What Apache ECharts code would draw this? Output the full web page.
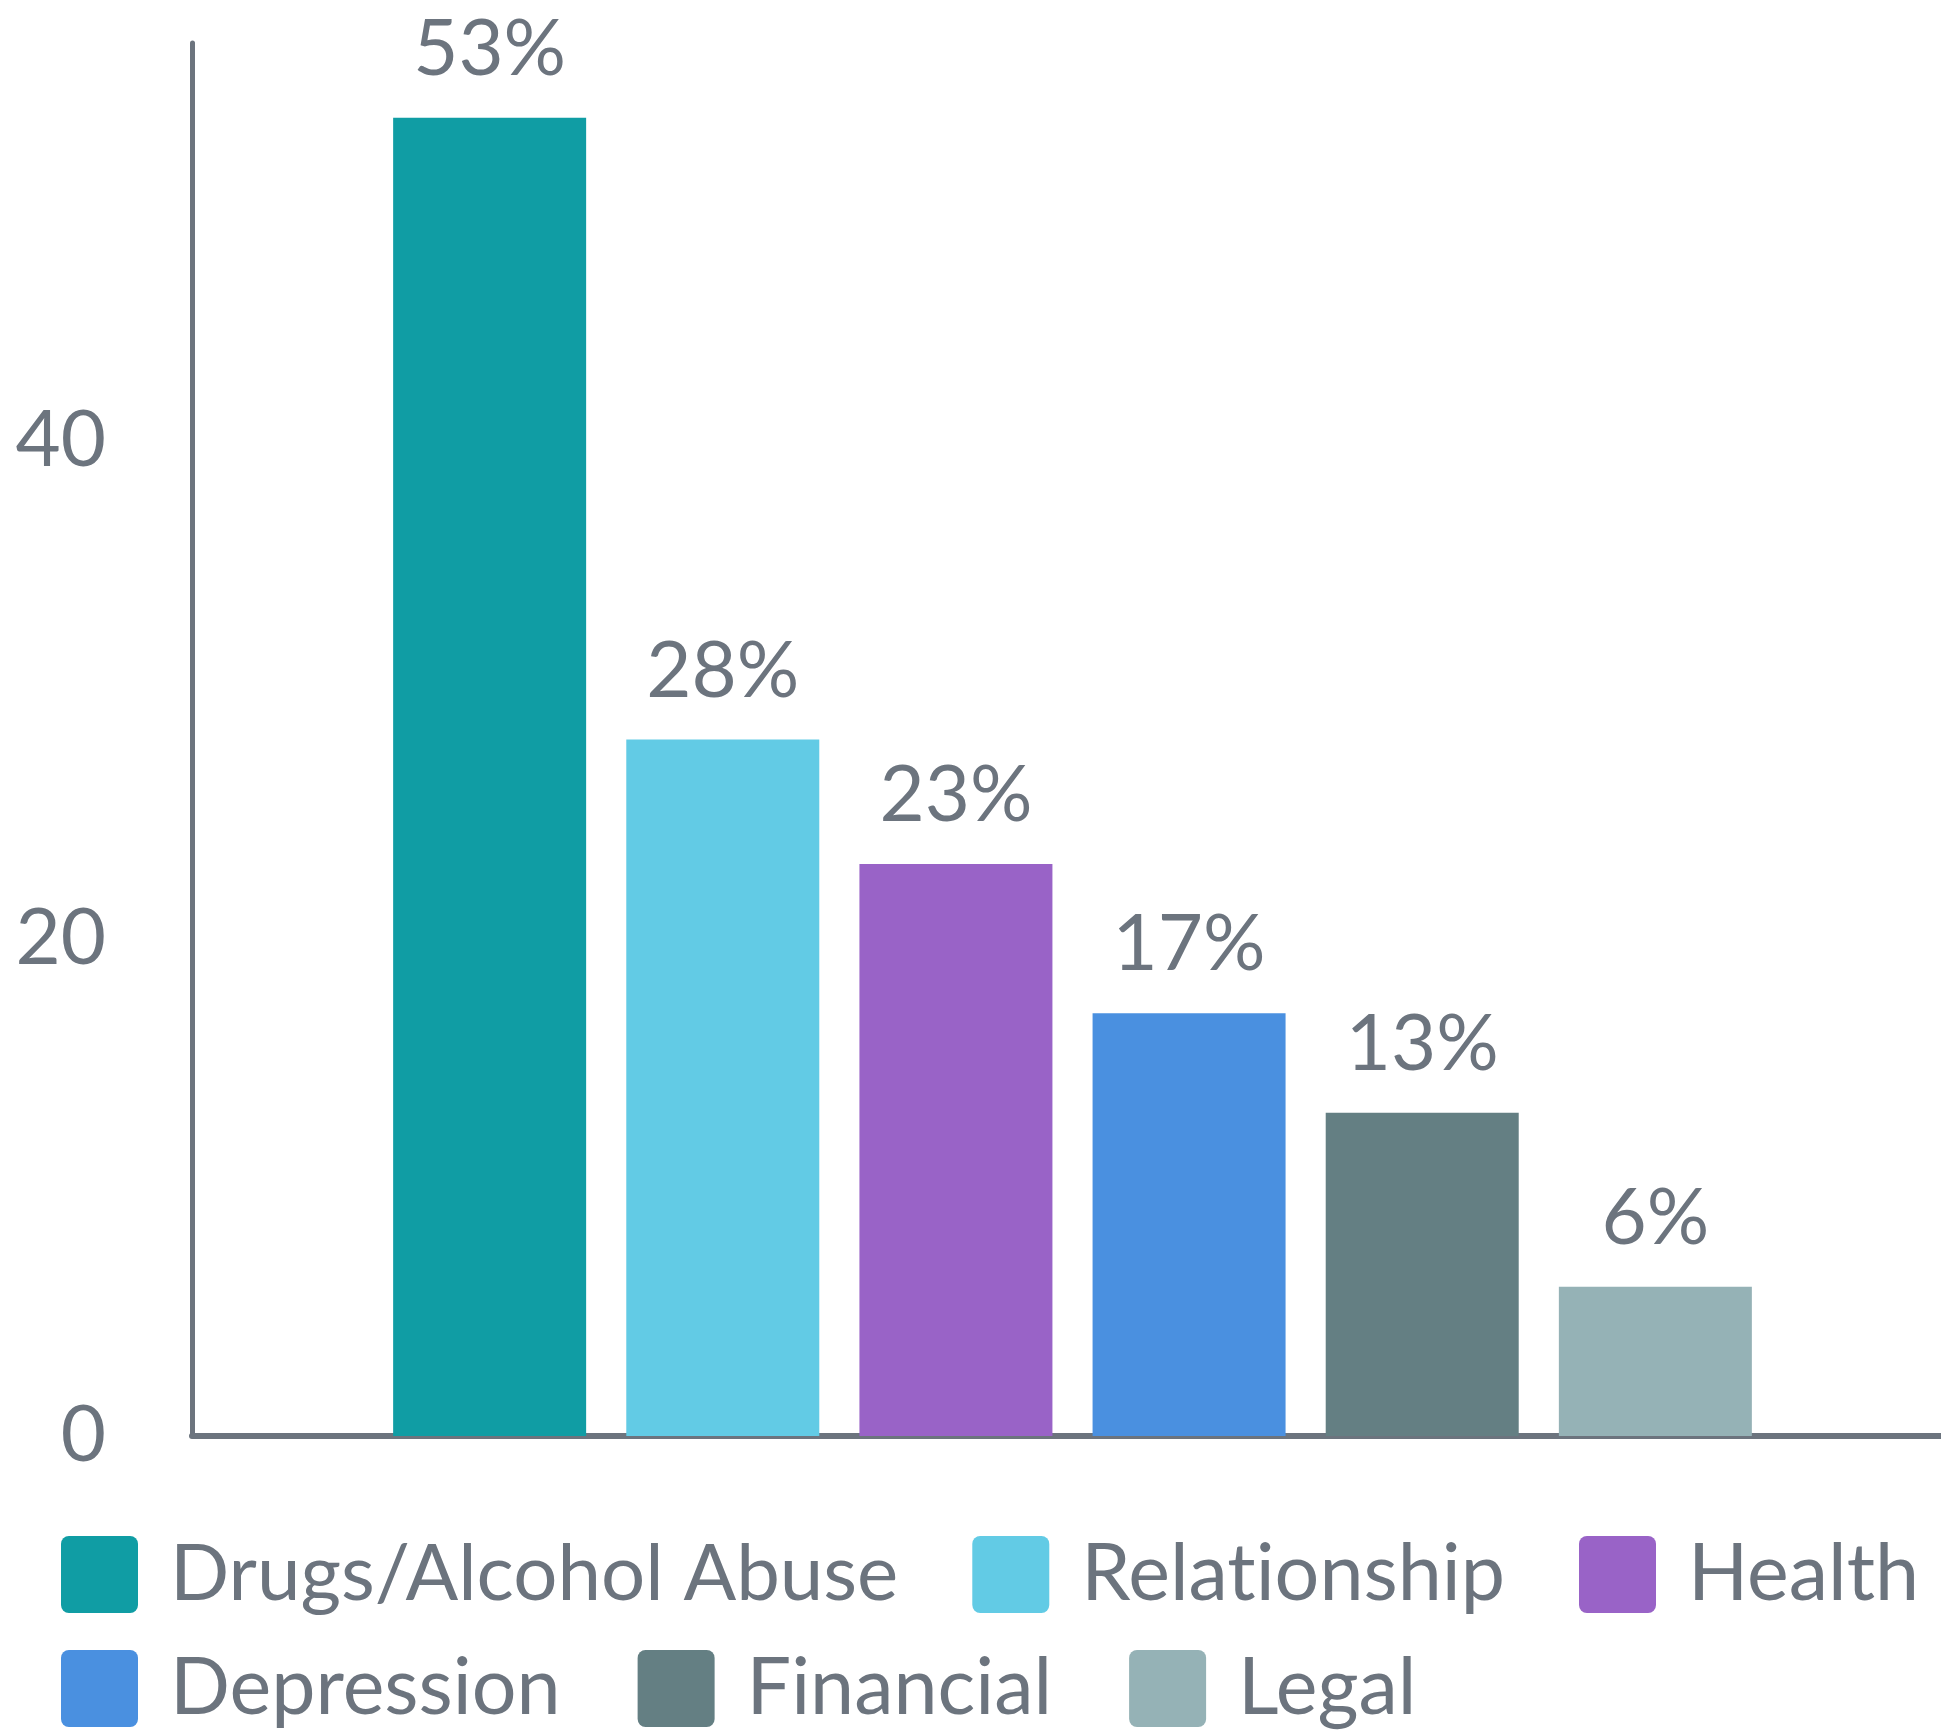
<!DOCTYPE html>
<html>
<head>
<meta charset="utf-8">
<script src="https://cdn.jsdelivr.net/npm/echarts@6/dist/echarts.min.js"></script>
<style>
html,body{margin:0;padding:0;background:#fff;}
#chart{width:1941px;height:1736px;}
</style>
</head>
<body>
<div id="chart"></div>
<script>
const categories = ['Drugs/Alcohol Abuse', 'Relationship', 'Health', 'Depression', 'Financial', 'Legal'];
const values = [53, 28, 23, 17, 13, 6];
const colors = ['#109da4', '#62cbe5', '#9963c7', '#4a90e0', '#647f83', '#95b2b6'];
const yMin = 0;
const yMax = 56;
const yInterval = 20;

const textColor = '#6c747e';
const font = 'Lato';
const iconPath = 'path://M8,0H70A8,8 0 0 1 78,8V70A8,8 0 0 1 70,78H8A8,8 0 0 1 0,70V8A8,8 0 0 1 8,0Z';

const legendCommon = {
  orient: 'horizontal',
  left: 61,
  padding: 0,
  itemWidth: 77,
  itemHeight: 78,
  icon: iconPath,
  // avoid the "ti" ligature of Lato (zero-width non-joiner)
  formatter: function (name) { return name.replace(/ti/g, 't\u200Ci'); },
  textStyle: {
    color: textColor,
    fontFamily: font,
    fontSize: 79,
    padding: [0, 0, 0, 27]
  }
};

const row1 = categories.slice(0, 3).map(function (n, i) {
  return i === 0 ? { name: n, textStyle: { fontSize: 78 } } : { name: n };
});
const row2 = categories.slice(3);

const chart = echarts.init(document.getElementById('chart'));
chart.setOption({
  animation: false,
  backgroundColor: '#ffffff',
  grid: { left: 192, width: 1761, top: 43, bottom: 300, containLabel: false, outerBoundsMode: 'none' },
  legend: [
    Object.assign({}, legendCommon, { top: 1535, itemGap: 74, data: row1 }),
    Object.assign({}, legendCommon, { top: 1649, itemGap: 77, data: row2 })
  ],
  xAxis: {
    type: 'category',
    data: [''],
    axisLine: { show: true, lineStyle: { color: textColor, width: 6 } },
    axisTick: { show: false },
    axisLabel: { show: false },
    splitLine: { show: false }
  },
  yAxis: {
    type: 'value',
    min: yMin,
    max: yMax,
    interval: yInterval,
    axisLine: { show: true, lineStyle: { color: textColor, width: 5 } },
    axisTick: { show: false },
    splitLine: { show: false },
    axisLabel: {
      showMaxLabel: false,
      margin: 86,
      color: textColor,
      fontFamily: font,
      fontSize: 78,
      formatter: function (v) { return v % yInterval === 0 ? String(v) : ''; }
    }
  },
  series: categories.map(function (name, i) {
    return {
      name: name,
      type: 'bar',
      barWidth: 193,
      barGap: '20.8%',
      itemStyle: { color: colors[i] },
      label: {
        show: true,
        position: 'top',
        distance: 29,
        color: textColor,
        fontFamily: font,
        fontSize: 78,
        formatter: '{c}%'
      },
      data: [values[i]]
    };
  })
});
</script>
</body>
</html>
